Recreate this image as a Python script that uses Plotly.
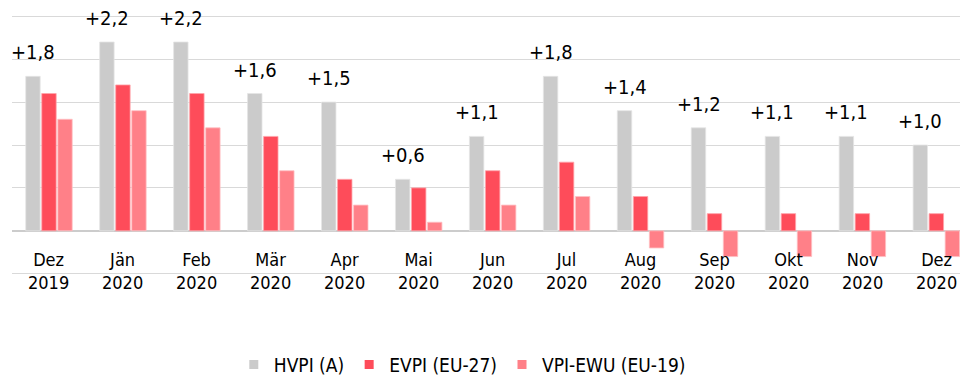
import plotly.graph_objects as go

# Inflation rates (year-on-year change, %) Dec 2019 - Dec 2020
months = ["Dez", "Jän", "Feb", "Mär", "Apr", "Mai", "Jun", "Jul", "Aug", "Sep", "Okt", "Nov", "Dez"]
years = ["2019"] + ["2020"] * 12
hvpi_at = [1.8, 2.2, 2.2, 1.6, 1.5, 0.6, 1.1, 1.8, 1.4, 1.2, 1.1, 1.1, 1.0]
evpi_eu27 = [1.6, 1.7, 1.6, 1.1, 0.6, 0.5, 0.7, 0.8, 0.4, 0.2, 0.2, 0.2, 0.2]
vpi_ewu19 = [1.3, 1.4, 1.2, 0.7, 0.3, 0.1, 0.3, 0.4, -0.2, -0.3, -0.3, -0.3, -0.3]

series = [
    ("HVPI (A)", hvpi_at, "#CBCBCB", "#E4E4E4"),
    ("EVPI (EU-27)", evpi_eu27, "#FE4C5A", "#FFA3AA"),
    ("VPI-EWU (EU-19)", vpi_ewu19, "#FF8088", "#FFC0C4"),
]

FONT = "Tahoma, 'DejaVu Sans Condensed', 'DejaVu Sans', sans-serif"
x = list(range(len(months)))

fig = go.Figure()
for name, vals, color, edge in series:
    fig.add_trace(go.Bar(
        x=x, y=vals, name=name, showlegend=False,
        marker=dict(color=color, line=dict(color=edge, width=0.8)),
        hoverinfo="skip",
    ))
    # legend entry with a small square swatch
    fig.add_trace(go.Scatter(
        x=[None], y=[None], mode="markers", name=name,
        marker=dict(symbol="square", size=9, color=color),
    ))

# value labels above the Austrian HICP bars
annotations = []
for i, v in enumerate(hvpi_at):
    annotations.append(dict(
        x=i, y=v, xref="x", yref="y", text=f"{v:+.1f}".replace(".", ","),
        showarrow=False, yanchor="bottom", xshift=-16, yshift=10,
        font=dict(family=FONT, size=20, color="#000000"),
    ))

# two-line category labels (month / year)
for i, (m, yr) in enumerate(zip(months, years)):
    annotations.append(dict(
        x=i, y=0, xref="x", yref="paper", text=f"{m}<br>{yr}",
        showarrow=False, yanchor="top", yshift=28,
        font=dict(family=FONT, size=18, color="#000000"),
    ))

fig.update_layout(
    width=960, height=376,
    margin=dict(l=12, r=0, t=15, b=101, autoexpand=False),
    paper_bgcolor="white", plot_bgcolor="white",
    barmode="group", bargap=0.35, bargroupgap=0.1,
    font=dict(family=FONT, size=18, color="#000000"),
    showlegend=True,
    legend=dict(orientation="h", x=0.475, xanchor="center",
                yref="container", y=0.03, yanchor="middle",
                font=dict(family=FONT, size=19, color="#000000")),
    annotations=annotations,
)
fig.update_xaxes(range=[-0.5, 12.32], showticklabels=False, showgrid=False,
                 zeroline=False, showline=False, ticks="")
# range padded slightly so the -0.5 and 2.5 gridlines stay inside the plot area
fig.update_yaxes(range=[-0.515, 2.515], dtick=0.5, showticklabels=False,
                 gridcolor="#D9D9D9", gridwidth=1.3,
                 zeroline=True, zerolinecolor="#CCCCCC", zerolinewidth=2,
                 showline=False, ticks="")

fig.write_html("out.html")
